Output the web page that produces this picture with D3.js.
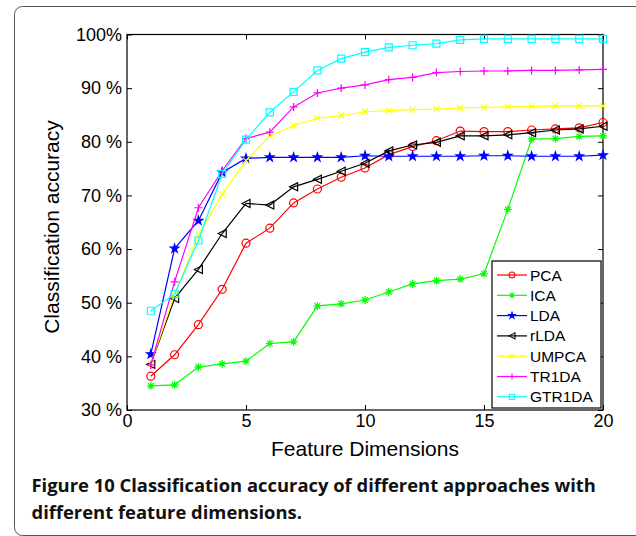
<!DOCTYPE html>
<html>
<head>
<meta charset="utf-8">
<script src="https://cdn.jsdelivr.net/npm/d3@7"></script>
<style>
  body { margin: 0; background: #fff; }
  svg { display: block; }
</style>
</head>
<body>
<div id="chart"></div>
<script>
// feature dimension 1..20
const dims = d3.range(1, 21);

// accuracy (%)
const pca   = [36.3, 40.3, 45.9, 52.5, 61.1, 63.9, 68.6, 71.2, 73.4, 75.1, 77.6, 79.1, 80.2, 82.0, 81.9, 81.9, 82.2, 82.4, 82.6, 83.6];
const ica   = [34.5, 34.7, 38.0, 38.6, 39.1, 42.4, 42.7, 49.4, 49.8, 50.5, 52.0, 53.5, 54.1, 54.4, 55.4, 67.4, 80.5, 80.6, 81.0, 81.1];
const lda   = [40.4, 60.1, 65.3, 74.3, 76.9, 77.1, 77.1, 77.1, 77.1, 77.4, 77.3, 77.3, 77.3, 77.3, 77.4, 77.4, 77.3, 77.3, 77.3, 77.5];
const rlda  = [38.5, 50.8, 56.2, 62.9, 68.5, 68.2, 71.6, 73.0, 74.5, 76.0, 78.3, 79.4, 79.9, 81.1, 81.1, 81.3, 81.7, 82.2, 82.4, 82.9];
const umpca = [38.6, 51.5, 62.6, 70.2, 76.5, 81.1, 83.0, 84.4, 84.9, 85.6, 85.8, 86.0, 86.1, 86.3, 86.4, 86.5, 86.6, 86.7, 86.7, 86.7];
const tr1da = [38.4, 53.9, 67.7, 74.6, 80.6, 81.8, 86.5, 89.1, 90.0, 90.6, 91.6, 92.0, 92.9, 93.1, 93.2, 93.2, 93.3, 93.3, 93.4, 93.5];
const gtr1da = [48.5, 51.6, 61.6, 74.0, 80.4, 85.5, 89.3, 93.3, 95.5, 96.7, 97.6, 98.0, 98.3, 99.0, 99.2, 99.2, 99.2, 99.2, 99.2, 99.2];

const names  = ['PCA', 'ICA', 'LDA', 'rLDA', 'UMPCA', 'TR1DA', 'GTR1DA'];
const values = [pca, ica, lda, rlda, umpca, tr1da, gtr1da];
const colors = ['#ff0000', '#00ff00', '#0000ff', '#000000', '#ffff00', '#ff00ff', '#00ffff'];
const marks  = ['circle', 'asterisk', 'star', 'triangle', 'x', 'plus', 'square'];

const yTicks = [30, 40, 50, 60, 70, 80, 90, 100];
const yTickLabels = ['30 %', '40 %', '50 %', '60 %', '70 %', '80 %', '90 %', '100%'];
const xTicks = [0, 5, 10, 15, 20];

const width = 636, height = 536;
const plotLeft = 127, plotRight = 603, plotTop = 34.5, plotBottom = 410;

const svg = d3.select('#chart')
  .append('svg')
  .attr('width', width)
  .attr('height', height);

// outer frame of the figure
svg.append('rect')
  .attr('x', 14.5).attr('y', 6.5)
  .attr('width', 640).attr('height', 529)
  .attr('rx', 8)
  .style('fill', 'none')
  .style('stroke', '#555')
  .style('stroke-width', 1);

const x = d3.scaleLinear().domain([0, 20]).range([plotLeft, plotRight]);
const y = d3.scaleLinear().domain([30, 100]).range([plotBottom, plotTop]);

const font = 'Liberation Sans, Arial, Helvetica, sans-serif';

// axes (ticks point inward, matlab style)
const axisStyle = function (g) {
  g.select('.domain').remove();
  g.selectAll('.tick line').style('stroke', '#000');
  g.selectAll('.tick text')
    .style('font-family', font)
    .style('font-size', '18px')
    .style('fill', '#000');
};

svg.append('g')
  .attr('transform', `translate(${plotLeft},0)`)
  .call(d3.axisLeft(y).tickValues(yTicks).tickSizeInner(-5).tickSizeOuter(0).tickPadding(5)
    .tickFormat((d, i) => yTickLabels[i]))
  .call(axisStyle);

svg.append('g')
  .attr('transform', `translate(0,${plotBottom})`)
  .call(d3.axisBottom(x).tickValues(xTicks).tickSizeInner(-5).tickSizeOuter(0).tickPadding(4))
  .call(axisStyle);

svg.append('g')
  .attr('transform', `translate(${plotRight},0)`)
  .call(d3.axisRight(y).tickValues(yTicks).tickSizeInner(-5).tickSizeOuter(0).tickFormat(''))
  .call(axisStyle);

svg.append('g')
  .attr('transform', `translate(0,${plotTop})`)
  .call(d3.axisTop(x).tickValues(xTicks).tickSizeInner(-5).tickSizeOuter(0).tickFormat(''))
  .call(axisStyle);

svg.append('rect')
  .attr('x', plotLeft).attr('y', plotTop)
  .attr('width', plotRight - plotLeft).attr('height', plotBottom - plotTop)
  .style('fill', 'none')
  .style('stroke', '#000')
  .style('stroke-width', 1.2);

// marker shapes
function markerPath(type) {
  const s = 4;
  switch (type) {
    case 'circle':
      return d3.symbol(d3.symbolCircle, 50)();
    case 'star':
      return d3.symbol(d3.symbolStar, 22)();
    case 'square':
      return `M${-3.5},${-3.5}H3.5V3.5H${-3.5}Z`;
    case 'triangle':
      return `M${-s},0L${s},${-s}L${s},${s}Z`;
    case 'plus':
      return `M${-s},0H${s}M0,${-s}V${s}`;
    case 'x':
      return `M-3,-3L3,3M-3,3L3,-3`;
    case 'asterisk':
      return `M${-s},0H${s}M0,${-s}V${s}M-2.8,-2.8L2.8,2.8M-2.8,2.8L2.8,-2.8`;
  }
}
const filled = { star: true };

const line = d3.line()
  .x((d, i) => x(dims[i]))
  .y(d => y(d));

const series = svg.selectAll('.series')
  .data(names)
  .enter().append('g')
  .attr('class', 'series');

series.append('path')
  .attr('d', (d, i) => line(values[i]))
  .style('fill', 'none')
  .style('stroke', (d, i) => colors[i])
  .style('stroke-width', 1.2);

series.each(function (d, i) {
  d3.select(this).selectAll('.mark')
    .data(values[i])
    .enter().append('path')
    .attr('class', 'mark')
    .attr('transform', (v, j) => `translate(${x(dims[j])},${y(v)})`)
    .attr('d', markerPath(marks[i]))
    .style('fill', filled[marks[i]] ? colors[i] : 'none')
    .style('stroke', colors[i])
    .style('stroke-width', 1.2);
});

// axis titles
svg.append('text')
  .attr('x', (plotLeft + plotRight) / 2)
  .attr('y', 456)
  .style('text-anchor', 'middle')
  .style('font-family', font)
  .style('font-size', '21px')
  .text('Feature Dimensions');

svg.append('text')
  .attr('transform', 'translate(59,227) rotate(-90)')
  .style('text-anchor', 'middle')
  .style('font-family', font)
  .style('font-size', '21px')
  .text('Classification accuracy');

// legend
const legend = svg.append('g').attr('transform', 'translate(492,261)');
legend.append('rect')
  .attr('width', 109).attr('height', 147)
  .style('fill', '#fff')
  .style('stroke', '#000')
  .style('stroke-width', 1.2);

const item = legend.selectAll('.item')
  .data(names)
  .enter().append('g')
  .attr('class', 'item')
  .attr('transform', (d, i) => `translate(0,${14 + i * 20.3})`);

item.append('line')
  .attr('x1', 5).attr('x2', 35)
  .style('stroke', (d, i) => colors[i])
  .style('stroke-width', 1.2);

item.append('path')
  .attr('transform', 'translate(20,0) scale(0.75)')
  .attr('d', (d, i) => markerPath(marks[i]))
  .style('fill', (d, i) => filled[marks[i]] ? colors[i] : 'none')
  .style('stroke', (d, i) => colors[i])
  .style('stroke-width', 1.4);

item.append('text')
  .attr('x', 38)
  .attr('dy', '0.36em')
  .style('font-family', font)
  .style('font-size', '15.5px')
  .text(d => d);

// caption
svg.append('text')
  .attr('x', 31.5)
  .attr('y', 492)
  .style('font-family', 'Open Sans, Lato, sans-serif')
  .style('font-size', '18.4px')
  .style('font-weight', 700)
  .style('fill', '#111')
  .text('Figure 10 Classification accuracy of different approaches with');

svg.append('text')
  .attr('x', 31.5)
  .attr('y', 519)
  .style('font-family', 'Open Sans, Lato, sans-serif')
  .style('font-size', '18.4px')
  .style('font-weight', 700)
  .style('fill', '#111')
  .text('different feature dimensions.');
</script>
</body>
</html>
